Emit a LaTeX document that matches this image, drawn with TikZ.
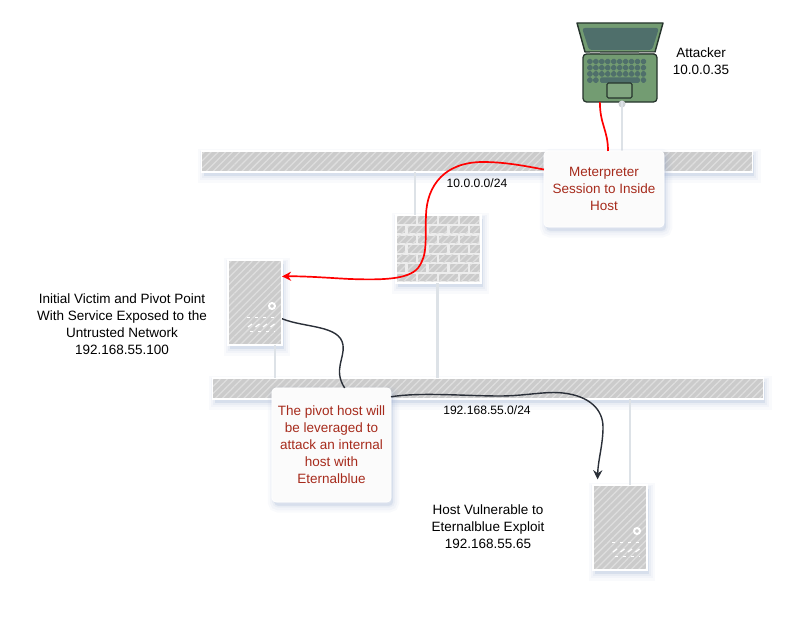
\documentclass[tikz,border=0pt]{standalone}
\usepackage{fontspec}
\setmainfont{Liberation Sans}
\usepackage{xcolor}
\usetikzlibrary{shadows,patterns.meta,arrows.meta}
\definecolor{hatchbase}{HTML}{CBCBCB}
\definecolor{hatchline}{HTML}{DEDEDE}
\definecolor{shadowblue}{HTML}{8FA3C8}
\definecolor{linkgray}{HTML}{DDE2E7}
\definecolor{notered}{HTML}{A62B1C}
\definecolor{flowdark}{HTML}{2A2F38}
\definecolor{laptopgreen}{HTML}{739C72}
\definecolor{laptopdark}{HTML}{25332C}
\definecolor{laptopteal}{HTML}{4F6F6B}

\begin{document}
\begin{tikzpicture}[
    x=0.025cm, y=-0.025cm,
    softshadow/.style={
        general shadow={shadow xshift=1.5pt, shadow yshift=-3pt, draw=shadowblue, fill=shadowblue, line width=9pt, opacity=.05},
        general shadow={shadow xshift=1.5pt, shadow yshift=-3pt, draw=shadowblue, fill=shadowblue, line width=6pt, opacity=.07},
        general shadow={shadow xshift=1.5pt, shadow yshift=-2.5pt, draw=shadowblue, fill=shadowblue, line width=3pt, opacity=.09}},
    hatched/.style={softshadow, fill=hatchbase, inner sep=0pt, outer sep=0pt,
        postaction={pattern={Lines[angle=45,distance=3.6pt,line width=.9pt]}, pattern color=hatchline},
        postaction={draw=white, line width=.8pt}},
    netbar/.style={hatched, minimum width=13.75cm, minimum height=.525cm},
    serverbox/.style={hatched, minimum width=1.35cm, minimum height=2.125cm},
    wallbox/.style={softshadow, fill=black!7, draw=white, line width=.8pt, inner sep=0pt, outer sep=0pt, minimum width=2.125cm, minimum height=1.7cm},
    brick/.style={fill=hatchbase, postaction={pattern={Lines[angle=45,distance=3.6pt,line width=.9pt]}, pattern color=hatchline}},
    callout/.style={softshadow, fill=black!1.5, draw=white, line width=.6pt, rounded corners=3pt, inner sep=0pt, outer sep=0pt, align=center, text=notered,
        font=\fontsize{9.6}{12.1}\selectfont},
    label/.style={align=center, font=\fontsize{9.6}{12.1}\selectfont},
    netlabel/.style={font=\fontsize{8.6}{10}\selectfont},
    link/.style={draw=linkgray, line width=1.5pt},
    redflow/.style={-{Stealth[length=6.5pt,width=6.5pt]}, draw=red, line width=1.2pt},
    darkflow/.style={draw=flowdark, line width=1pt}
]
\useasboundingbox (0,0) rectangle (800,628);

% Network bars
\node[netbar] (topbar) at (477,161.5) {};
\node[netbar] (lowbar) at (488,388.5) {};

% Firewall
\node[wallbox] (firewall) at (438.5,249) {};
\foreach \row in {0,2,4,6} {
    \foreach \col in {0,1,2,3} {
        \fill[brick] (397+21*\col,216.5+9.6*\row) rectangle ++(19,7.4);
    }
}
\foreach \row in {1,3,5} {
    \fill[brick] (397,216.5+9.6*\row) rectangle ++(8,7.4);
    \foreach \col in {0,1,2} {
        \fill[brick] (407.5+21*\col,216.5+9.6*\row) rectangle ++(18.5,7.4);
    }
    \fill[brick] (470,216.5+9.6*\row) rectangle ++(9.5,7.4);
}

% Servers
\node[serverbox] (pivot) at (255,302.5) {};
\node[serverbox] (target) at (620,527.5) {};
\foreach \x/\y in {228/260,593/485} {
    \begin{scope}[shift={(\x,\y)}]
        \draw[white, line width=1.4pt, fill=hatchbase] (44,46) circle (3);
        \draw[white, line width=.9pt, dash pattern=on 2.2pt off 3.4pt] (19,57.5) -- (49,57.5);
        \foreach \i in {0,1,2,3} {
            \draw[white, line width=.9pt] (20+7.5*\i,67) -- ++(4,-3);
        }
        \draw[white, line width=.9pt, dash pattern=on 2.2pt off 3.4pt] (22,71.5) -- (46,71.5);
    \end{scope}
}

% Laptop
\draw[draw=laptopdark, fill=laptopgreen, line width=1pt, line join=round] (577,23) -- (663,23) -- (655,52) -- (585,52) -- cycle;
\fill[laptopteal, rounded corners=2pt] (582,28) -- (659,28) -- (652,50) -- (589,50) -- cycle;
\fill[gray!70] (590,52) rectangle (600,55);
\fill[gray!70] (639,52) rectangle (655,55);
\node[draw=laptopdark, fill=laptopgreen, line width=.9pt, rounded corners=2.5pt, inner sep=0pt, outer sep=0pt,
    minimum width=1.85cm, minimum height=1.2cm] (laptop) at (620,78) {};
\foreach \row in {0,1,2} {
    \foreach \col in {0,...,9} {
        \fill[laptopteal, rounded corners=1.3pt] (587.2+5.95*\col,58.8+6.2*\row) rectangle ++(5.4,5.4);
    }
}
\foreach \col in {0,1,8,9} {
    \fill[laptopteal, rounded corners=1.3pt] (587.2+5.95*\col,77.4) rectangle ++(5.4,5.4);
}
\fill[laptopteal, rounded corners=1pt] (600,77.4) rectangle (639,82.8);
\draw[draw=laptopdark, fill=laptopgreen!90!white, line width=.8pt, rounded corners=1pt] (607,83) rectangle (632,98);

% Links
\fill[linkgray!85!gray] (622,104) circle (3.5);
\coordinate (laptoptap) at (622,101);
\coordinate (toptap) at (622,151);
\draw[link] (laptoptap) -- (toptap);
\draw[link] (firewall.north -| 415,0) -- (topbar.south -| 415,0);
\draw[link] (firewall.south -| 437.5,0) -- (lowbar.north -| 437.5,0);
\draw[link] (pivot.south -| 275,0) -- (lowbar.north -| 275,0);
\draw[link] (target.north -| 630,0) -- (lowbar.south -| 630,0);

% Notes
\node[callout, minimum width=3cm, minimum height=1.9cm] (meterpreter) at (604,189) {Meterpreter\\Session to Inside\\Host};
\node[callout, minimum width=2.975cm, minimum height=2.85cm] (pivotnote) at (331.5,445) {The pivot host will\\be leveraged to\\attack an internal\\host with\\Eternalblue};

% Flows
\draw[draw=red, line width=1.2pt] (laptop.230) .. controls (600,125) and (608,130) .. (meterpreter.84);
\draw[redflow] (meterpreter.162) .. controls (525,166) and (505,162) .. (483,162)
    .. controls (445,162) and (427,185) .. (426,215)
    .. controls (425,240) and (428,255) .. (418,268)
    .. controls (408,280) and (380,280) .. (350,279)
    .. controls (330,278) and (305,276) .. (pivot.44);
\draw[darkflow] (pivot.-31.4) .. controls (305,328) and (340,325) .. (343,345)
    .. controls (345,358) and (333,370) .. (pivotnote.77.6);
\draw[darkflow, shorten >=4pt, -{Stealth[length=6.5pt,width=6.5pt]}] (pivotnote.39.5) .. controls (420,392) and (465,396) .. (500,396)
    .. controls (525,396) and (545,391) .. (563,393)
    .. controls (590,396) and (603,410) .. (603,427)
    .. controls (603,445) and (598,460) .. (target.118.4);

% Labels
\node[label] (attackerlabel) at (701,61.5) {Attacker\\10.0.0.35};
\node[label] (pivotlabel) at (122,324) {Initial Victim and Pivot Point\\With Service Exposed to the\\Untrusted Network\\192.168.55.100};
\node[label] (targetlabel) at (488,527) {Host Vulnerable to\\Eternalblue Exploit\\192.168.55.65};
\node[netlabel] (toplabel) at (477,183) {10.0.0.0/24};
\node[netlabel] (lowlabel) at (487,410) {192.168.55.0/24};

\end{tikzpicture}
\end{document}
